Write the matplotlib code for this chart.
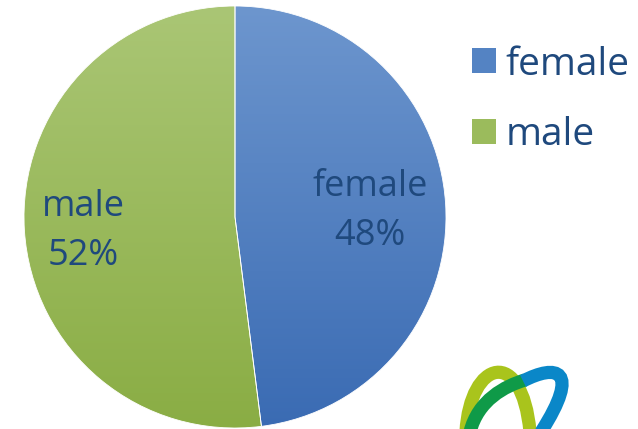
import numpy as np
import matplotlib
matplotlib.use('Agg')
import matplotlib.pyplot as plt
from matplotlib.colors import LinearSegmentedColormap
from matplotlib.patches import Patch
from matplotlib.path import Path
from matplotlib.patches import PathPatch

plt.rcParams['font.family'] = ['Open Sans', 'DejaVu Sans']

labels = ['female', 'male']
shares = [48, 52]
# top / bottom colours of each slice's gradient
grad_top = ['#6d96ce', '#aac675']
grad_bot = ['#3a6bb3', '#8aad44']
solid = ['#5483c3', '#9bbb5c']
text_col = '#1f497d'

W, H = 638, 429
fig = plt.figure(figsize=(W / 100, H / 100), dpi=100)

cx, cy, r = 235, 217, 211
ax = fig.add_axes([(cx - r) / W, (H - cy - r) / H, 2 * r / W, 2 * r / H])
wedges, _ = ax.pie(shares, startangle=90, counterclock=False, radius=1,
                   wedgeprops=dict(facecolor='none', edgecolor='white', linewidth=0.6, zorder=3))
ramp = np.linspace(0, 1, 256).reshape(-1, 1)
for w, c0, c1 in zip(wedges, grad_top, grad_bot):
    cmap = LinearSegmentedColormap.from_list('g', [c0, c1])
    im = ax.imshow(ramp, cmap=cmap, extent=(-1, 1, -1, 1), origin='upper',
                   aspect='auto', zorder=1)
    im.set_clip_path(w)
ax.set_xlim(-1, 1)
ax.set_ylim(-1, 1)
ax.axis('off')

# slice labels
ax.text(0.64, 0.026, 'female\n48%', ha='center', va='center', fontsize=26,
        color=text_col, linespacing=1.48)
ax.text(-0.72, -0.069, 'male\n52%', ha='center', va='center', fontsize=26,
        color=text_col, linespacing=1.48)

handles = [Patch(facecolor=c, edgecolor='none') for c in solid]
fig.legend(handles, labels, loc='upper left', bbox_to_anchor=(456 / W, 1 - 30 / H),
           frameon=False, fontsize=28, labelcolor=text_col,
           handlelength=0.62, handleheight=0.62, handletextpad=0.26,
           labelspacing=0.84, borderaxespad=0)

# logo in the lower right corner
lg = fig.add_axes([0, 0, 1, 1], zorder=5)
lg.set_xlim(0, W)
lg.set_ylim(H, 0)
lg.axis('off')
lg.patch.set_alpha(0)

def arc(pts, color):
    codes = [Path.MOVETO] + [Path.CURVE4] * (len(pts) - 1)
    lg.add_patch(PathPatch(Path(pts, codes), facecolor='none', edgecolor=color,
                           linewidth=9.5, capstyle='butt'))

arc([(466, 432), (470, 360), (522, 345), (530, 432)], '#a9c41c')
arc([(470, 432), (478, 400), (505, 386), (525, 380)], '#0f9a48')
arc([(523, 381), (556, 364), (582, 368), (541, 432)], '#0a87c8')

fig.savefig('out.png', dpi=100)
